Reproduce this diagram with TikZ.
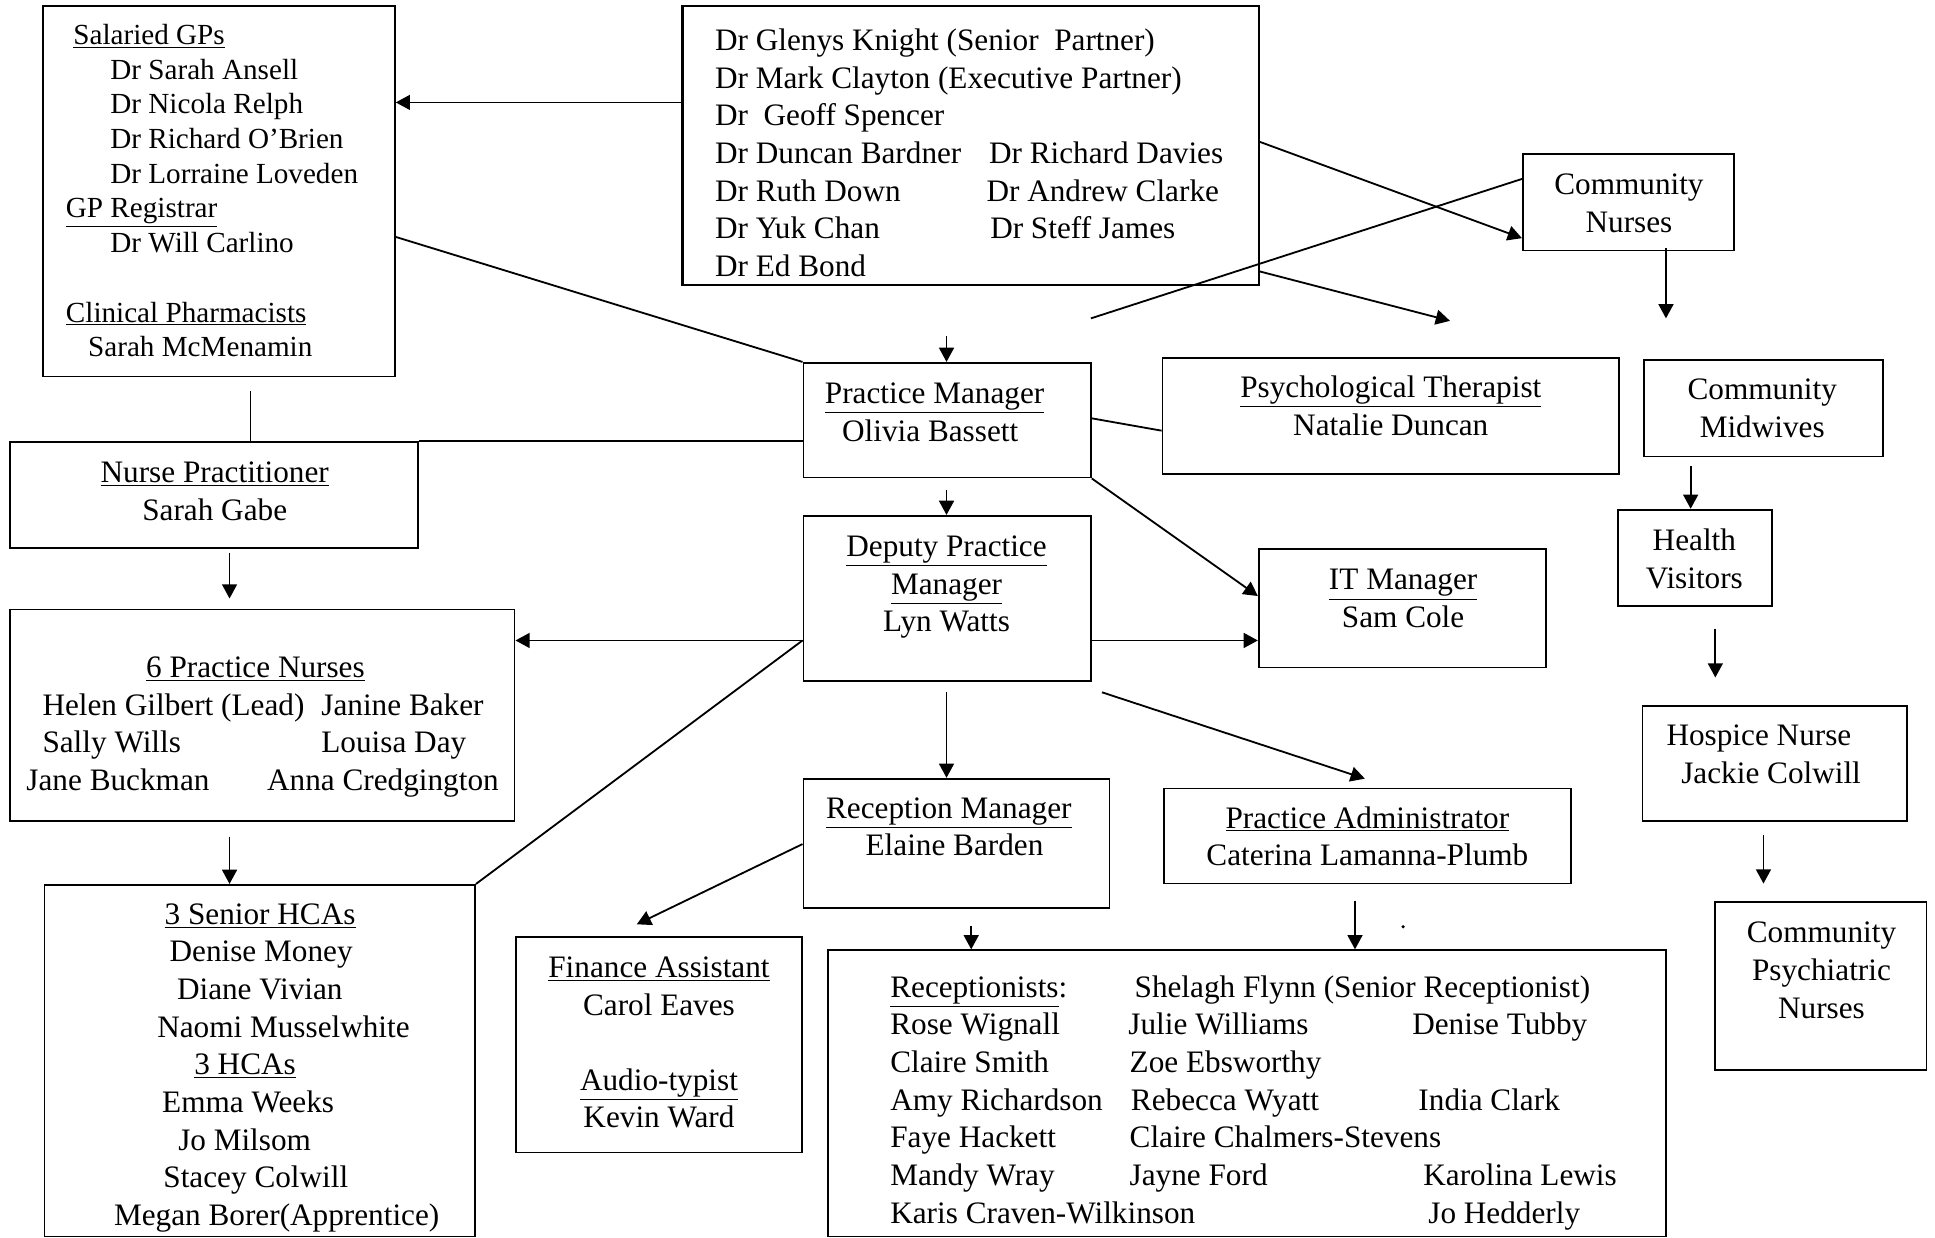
\documentclass[tikz,border=0pt]{standalone}
\usepackage{fontspec}
\setmainfont{Liberation Serif}
\usetikzlibrary{arrows.meta, fit}
\newlength{\pu}
\setlength{\pu}{0.025cm}
\newcommand{\colat}[2]{\rlap{\hspace{#1\pu}#2}}

\begin{document}
\begin{tikzpicture}[x=0.025cm, y=-0.025cm, >={Triangle[length=8.2pt,width=8.6pt]}, line width=1.05pt,
	box/.style={draw, line width=1pt, inner sep=0pt},
	txt/.style={inner sep=0pt, anchor=base west, font=\fontsize{18}{21.7}\selectfont},
	ctxt/.style={txt, anchor=base}]
	
	\useasboundingbox (0,0) rectangle (1568,1003);
	
	% boxes
	\node (sgp) [box, fit={(35,5) (320,305)}] {};
	\node (partners) [box, line width=1.4pt, fit={(553,5) (1020,231)}] {};
	\node (cnurse) [box, fit={(1234,125) (1405,203)}] {};
	\node (pm) [box, fit={(651,294) (884,387)}] {};
	\node (psych) [box, fit={(942,290) (1312,384)}] {};
	\node (midwife) [box, fit={(1332,292) (1526,370)}] {};
	\node (np) [box, fit={(8,358) (339,444)}] {};
	\node (dpm) [box, fit={(651,418) (884,552)}] {};
	\node (it) [box, fit={(1020,445) (1253,541)}] {};
	\node (hv) [box, fit={(1311,413) (1436,491)}] {};
	\node (pn) [box, fit={(8,494) (417,665)}] {};
	\node (hospice) [box, fit={(1331,572) (1545,665)}] {};
	\node (rm) [box, fit={(651,631) (899,736)}] {};
	\node (padmin) [box, fit={(943,639) (1273,716)}] {};
	\node (hca) [box, fit={(36,717) (385,1002)}] {};
	\node (fin) [box, fit={(418,759) (650,934)}] {};
	\node (recep) [box, fit={(671,770) (1350,1002)}] {};
	\node (cpn) [box, fit={(1390,731) (1561,867)}] {};
	
	% texts
	\node (sgptxt) [txt, font=\fontsize{16.8}{20}\selectfont] at (52,36) {\begin{tabular}[t]{@{}l@{}}
		\colat{6}{\underline{Salaried GPs}}\\
		\colat{36}{Dr Sarah Ansell}\\
		\colat{36}{Dr Nicola Relph}\\
		\colat{36}{Dr Richard O'Brien}\\
		\colat{36}{Dr Lorraine Loveden}\\
		\colat{0}{\underline{GP Registrar}}\\
		\colat{36}{Dr Will Carlino}\\
		\\
		\colat{0}{\underline{Clinical Pharmacists}}\\
		\colat{18}{Sarah McMenamin}
	\end{tabular}};
	\node (partnerstxt) [txt] at (578,41) {\begin{tabular}[t]{@{}l@{}}
		\colat{0}{Dr Glenys Knight (Senior\ \ Partner)}\\
		\colat{0}{Dr Mark Clayton (Executive Partner)}\\
		\colat{0}{Dr\ \ Geoff Spencer}\\
		\colat{0}{Dr Duncan Bardner}\colat{222}{Dr Richard Davies}\\
		\colat{0}{Dr Ruth Down}\colat{220}{Dr Andrew Clarke}\\
		\colat{0}{Dr Yuk Chan}\colat{223}{Dr Steff James}\\
		\colat{0}{Dr Ed Bond}
	\end{tabular}};
	\node (cnursetxt) [ctxt] at (1320,158) {\begin{tabular}[t]{@{}c@{}}Community\\Nurses\end{tabular}};
	\node (pmtxt) [txt] at (667,327) {\begin{tabular}[t]{@{}l@{}}
		\colat{0}{\underline{Practice Manager}}\\
		\colat{14}{Olivia Bassett}
	\end{tabular}};
	\node (psychtxt) [ctxt] at (1127,322) {\begin{tabular}[t]{@{}c@{}}\underline{Psychological Therapist}\\Natalie Duncan\end{tabular}};
	\node (midwifetxt) [ctxt] at (1428,324) {\begin{tabular}[t]{@{}c@{}}Community\\Midwives\end{tabular}};
	\node (nptxt) [ctxt] at (174,391) {\begin{tabular}[t]{@{}c@{}}\underline{Nurse Practitioner}\\Sarah Gabe\end{tabular}};
	\node (dpmtxt) [ctxt] at (767,451) {\begin{tabular}[t]{@{}c@{}}\underline{Deputy Practice}\\\underline{Manager}\\Lyn Watts\end{tabular}};
	\node (ittxt) [ctxt] at (1137,478) {\begin{tabular}[t]{@{}c@{}}\underline{IT Manager}\\Sam Cole\end{tabular}};
	\node (hvtxt) [ctxt] at (1373,446) {\begin{tabular}[t]{@{}c@{}}Health\\Visitors\end{tabular}};
	\node (pntxt) [txt] at (20,549) {\begin{tabular}[t]{@{}l@{}}
		\colat{97}{\underline{6 Practice Nurses}}\\
		\colat{13}{Helen Gilbert (Lead)}\colat{239}{Janine Baker}\\
		\colat{13}{Sally Wills}\colat{239}{Louisa Day}\\
		\colat{0}{Jane Buckman}\colat{195}{Anna Credgington}
	\end{tabular}};
	\node (hospicetxt) [txt] at (1349,604) {\begin{tabular}[t]{@{}l@{}}
		\colat{0}{Hospice Nurse}\\
		\colat{12}{Jackie Colwill}
	\end{tabular}};
	\node (rmtxt) [txt] at (668,663) {\begin{tabular}[t]{@{}l@{}}
		\colat{0}{\underline{Reception Manager}}\\
		\colat{32}{Elaine Barden}
	\end{tabular}};
	\node (padmintxt) [ctxt] at (1108,671) {\begin{tabular}[t]{@{}c@{}}\underline{Practice Administrator}\\Caterina Lamanna-Plumb\end{tabular}};
	\node (hcatxt) [txt] at (91,749) {\begin{tabular}[t]{@{}l@{}}
		\colat{41}{\underline{3 Senior HCAs}}\\
		\colat{45}{Denise Money}\\
		\colat{51}{Diane Vivian}\\
		\colat{35}{Naomi Musselwhite}\\
		\colat{65}{\underline{3 HCAs}}\\
		\colat{39}{Emma Weeks}\\
		\colat{52}{Jo Milsom}\\
		\colat{40}{Stacey Colwill}\\
		\colat{0}{Megan Borer(Apprentice)}
	\end{tabular}};
	\node (fintxt) [ctxt] at (534,792) {\begin{tabular}[t]{@{}c@{}}\underline{Finance Assistant}\\Carol Eaves\\ \\\underline{Audio-typist}\\Kevin Ward\end{tabular}};
	\node (receptxt) [txt] at (720,808) {\begin{tabular}[t]{@{}l@{}}
		\colat{0}{\underline{Receptionists}:}\colat{198}{Shelagh Flynn (Senior Receptionist)}\\
		\colat{0}{Rose Wignall}\colat{193}{Julie Williams}\colat{423}{Denise Tubby}\\
		\colat{0}{Claire Smith}\colat{194}{Zoe Ebsworthy}\\
		\colat{0}{Amy Richardson}\colat{195}{Rebecca Wyatt}\colat{428}{India Clark}\\
		\colat{0}{Faye Hackett}\colat{194}{Claire Chalmers-Stevens}\\
		\colat{0}{Mandy Wray}\colat{194}{Jayne Ford}\colat{432}{Karolina Lewis}\\
		\colat{0}{Karis Craven-Wilkinson}\colat{436}{Jo Hedderly}
	\end{tabular}};
	\node (cpntxt) [ctxt] at (1476,764) {\begin{tabular}[t]{@{}c@{}}Community\\Psychiatric\\Nurses\end{tabular}};
	
	% free ends
	\coordinate (pmin) at (767,272);
	\coordinate (ptfree) at (1175,260);
	\coordinate (cnout) at (1350,201);
	\coordinate (cnend) at (1350,258);
	\coordinate (cnfree) at (884,258);
	\coordinate (dpmin) at (767,397);
	\coordinate (mwout) at (1370,378);
	\coordinate (hvout) at (1390,510);
	\coordinate (hvend) at (1390,549);
	\coordinate (hsout) at (1429,677);
	\coordinate (hsend) at (1429,716);
	\coordinate (npout) at (186,448);
	\coordinate (npend) at (186,485);
	\coordinate (pnout) at (186,678);
	\coordinate (sgpdown) at (203,317);
	\coordinate (dpmout) at (767,561);
	\coordinate (paout) at (893,561);
	\coordinate (paend) at (1106,631);
	\coordinate (finend) at (516,749);
	\coordinate (rcin) at (787,750);
	\coordinate (pain) at (1098,730);
	
	\path [->]
	(partners.west |- 0,83) edge (sgp.east |- 0,83)
	(pmin) edge (pmin |- pm.north)
	(partners.east |- 0,115) edge (cnurse.west |- 0,193)
	(partners.east |- 0,220) edge (ptfree)
	(cnout) edge (cnend)
	(dpmin) edge (dpmin |- dpm.north)
	(pm.south east) edge (it.west |- 0,483)
	(mwout) edge (mwout |- hv.north)
	(hvout) edge (hvend)
	(hsout) edge (hsend)
	(npout) edge (npend)
	(pnout) edge (pnout |- hca.north)
	(dpm.west |- 0,519) edge (pn.east |- 0,519)
	(dpm.east |- 0,519) edge (it.west |- 0,519)
	(dpmout) edge (dpmout |- rm.north)
	(paout) edge (paend)
	(rm.west |- 0,684) edge (finend)
	(rcin) edge (rcin |- recep.north)
	(pain) edge (pain |- recep.north);
	
	\path
	(sgp.east |- 0,192) edge (pm.north west)
	(sgpdown) edge (sgpdown |- np.north)
	(pm.west |- np.north) edge (np.north east)
	(cnurse.west |- 0,145) edge (cnfree)
	(pm.east |- 0,339) edge (psych.west |- 0,349)
	(dpm.west |- 0,519) edge (hca.north east);
	
	\fill (1137,751) circle (1pt);
	
\end{tikzpicture}
\end{document}
